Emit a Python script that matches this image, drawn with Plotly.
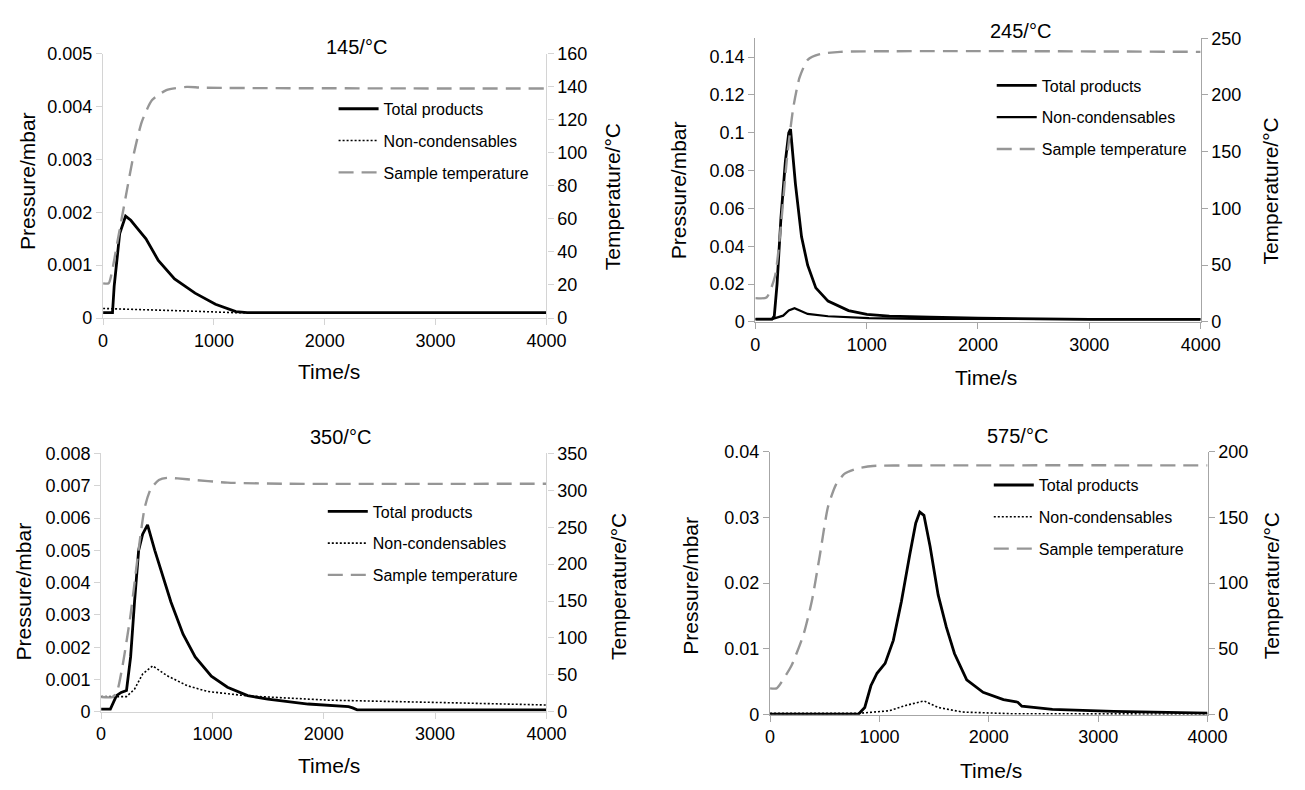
import plotly.graph_objects as go

# ---------------------------------------------------------------------------
# Pyrolysis runs: evolved-gas pressure and sample temperature versus time
# ---------------------------------------------------------------------------
panel_titles = ["145/°C", "245/°C", "350/°C", "575/°C"]
series_names = ["Total products", "Non-condensables", "Sample temperature"]
time_ticks = [0, 1000, 2000, 3000, 4000]

# 145 °C run
t145_total = [0, 85, 100, 150, 203, 250, 300, 387, 498, 645, 830, 1014, 1198, 1300, 4000]
p145_total = [0.0001, 0.0001, 0.0006, 0.0016, 0.00193, 0.00185, 0.00172, 0.0015, 0.00109,
              0.00074, 0.00047, 0.00026, 0.00012, 0.0001, 0.0001]
t145_noncond = [0, 400, 800, 1200, 4000]
p145_noncond = [0.00018, 0.00016, 0.00013, 0.0001, 0.0001]
t145_temp = [0, 50, 74, 129, 203, 276, 350, 442, 571, 756, 900, 4000]
T145_temp = [21, 21, 26, 46, 73, 99, 119, 132, 138, 140, 139.5, 139]
p145_ticks = [0, 0.001, 0.002, 0.003, 0.004, 0.005]
p145_labels = ["0", "0.001", "0.002", "0.003", "0.004", "0.005"]
T145_ticks = [0, 20, 40, 60, 80, 100, 120, 140, 160]

# 245 °C run
t245_total = [0, 150, 170, 195, 230, 270, 300, 316, 360, 415, 470, 543, 653, 837,
              1002, 1204, 1571, 2000, 3000, 4000]
p245_total = [0.0015, 0.0015, 0.003, 0.02, 0.055, 0.085, 0.1, 0.102, 0.073, 0.045,
              0.03, 0.018, 0.011, 0.006, 0.004, 0.003, 0.0025, 0.002, 0.0013, 0.0013]
t245_noncond = [0, 150, 250, 300, 352, 470, 653, 1020, 1500, 4000]
p245_noncond = [0.0015, 0.0015, 0.0033, 0.006, 0.0072, 0.0042, 0.003, 0.002, 0.0016, 0.0014]
t245_temp = [0, 100, 176, 231, 286, 341, 396, 470, 580, 763, 4000]
T245_temp = [21, 21.5, 40, 86, 146, 189, 215, 231, 236, 238, 238]
p245_ticks = [0, 0.02, 0.04, 0.06, 0.08, 0.1, 0.12, 0.14]
p245_labels = ["0", "0.02", "0.04", "0.06", "0.08", "0.1", "0.12", "0.14"]
T245_ticks = [0, 50, 100, 150, 200, 250]

# 350 °C run
t350_total = [0, 83, 138, 180, 228, 265, 300, 337, 373, 417, 482, 555, 627, 736, 845,
              990, 1135, 1316, 1497, 1860, 2223, 2259, 2300, 4000]
p350_total = [0.00008, 0.00008, 0.0005, 0.0006, 0.00066, 0.0017, 0.0034, 0.005, 0.0055,
              0.00579, 0.005, 0.0042, 0.0034, 0.0024, 0.0017, 0.0011, 0.00076, 0.0005,
              0.00039, 0.00024, 0.00016, 0.00012, 0.00006, 0.00006]
t350_noncond = [0, 228, 300, 373, 464, 591, 772, 954, 1316, 2041, 3129, 4000]
p350_noncond = [0.00047, 0.00047, 0.0007, 0.00117, 0.00142, 0.00112, 0.00081, 0.00063,
                0.00049, 0.00036, 0.00028, 0.00021]
t350_temp = [0, 100, 138, 192, 265, 337, 392, 446, 519, 591, 772, 1135, 1679, 4000]
T350_temp = [20, 20, 25, 62, 132, 220, 277, 302, 314, 317, 315, 310.5, 309, 309]
p350_ticks = [0, 0.001, 0.002, 0.003, 0.004, 0.005, 0.006, 0.007, 0.008]
p350_labels = ["0", "0.001", "0.002", "0.003", "0.004", "0.005", "0.006", "0.007", "0.008"]
T350_ticks = [0, 50, 100, 150, 200, 250, 300, 350]

# 575 °C run
t575_total = [0, 810, 866, 922, 978, 1052, 1127, 1201, 1276, 1332, 1369, 1407, 1463,
              1537, 1612, 1686, 1798, 1948, 2134, 2265, 2302, 2582, 3141, 4000]
p575_total = [0.0001, 0.0001, 0.0011, 0.0044, 0.0063, 0.0078, 0.0113, 0.0172, 0.0242,
              0.0291, 0.0308, 0.0303, 0.0256, 0.0182, 0.0133, 0.0093, 0.0053, 0.0034,
              0.0023, 0.0019, 0.0013, 0.0008, 0.0005, 0.00025]
t575_noncond = [0, 800, 1089, 1239, 1407, 1537, 1761, 2209, 4000]
p575_noncond = [0.0002, 0.0002, 0.0006, 0.0014, 0.0021, 0.0011, 0.0004, 0.00015, 0.0001]
t575_temp = [0, 60, 82, 194, 306, 381, 455, 530, 604, 679, 791, 940, 1276, 4000]
T575_temp = [20, 20, 22, 37, 61, 86, 121, 158, 175, 183, 187, 189, 189.4, 189.5]
p575_ticks = [0, 0.01, 0.02, 0.03, 0.04]
p575_labels = ["0", "0.01", "0.02", "0.03", "0.04"]
T575_ticks = [0, 50, 100, 150, 200]

runs = [
    dict(total=(t145_total, p145_total), noncond=(t145_noncond, p145_noncond),
         temp=(t145_temp, T145_temp), pticks=p145_ticks, plabels=p145_labels,
         Tticks=T145_ticks, prange=[0, 0.005], Trange=[0, 160], noncond_dash="2px,2px"),
    dict(total=(t245_total, p245_total), noncond=(t245_noncond, p245_noncond),
         temp=(t245_temp, T245_temp), pticks=p245_ticks, plabels=p245_labels,
         Tticks=T245_ticks, prange=[0, 0.15], Trange=[0, 250], noncond_dash="solid"),
    dict(total=(t350_total, p350_total), noncond=(t350_noncond, p350_noncond),
         temp=(t350_temp, T350_temp), pticks=p350_ticks, plabels=p350_labels,
         Tticks=T350_ticks, prange=[0, 0.008], Trange=[0, 350], noncond_dash="2px,2px"),
    dict(total=(t575_total, p575_total), noncond=(t575_noncond, p575_noncond),
         temp=(t575_temp, T575_temp), pticks=p575_ticks, plabels=p575_labels,
         Tticks=T575_ticks, prange=[0, 0.04], Trange=[0, 200], noncond_dash="2px,2px"),
]

# ---------------------------------------------------------------------------
# Page geometry (pixels) -> paper fractions
# ---------------------------------------------------------------------------
W, H = 1305, 790
FONT = "Liberation Sans, Arial, Helvetica, sans-serif"

# plot-area boxes: left, right, top, bottom
boxes = [(100, 552, 45, 316), (765, 1219, 29, 320), (98, 552, 455, 720), (780, 1226, 453, 723)]
axis_colours = ["#d4d4d4", "#a6a6a6", "#d4d4d4", "#a6a6a6"]
title_pos = [(358, 38), (1035, 22), (342, 438), (1032, 437)]
legend_pos = [(335, 84), (1006, 60), (324, 497), (1003, 470)]
ylab_left = [(23, 176), (686, 185), (19, 597), (698, 591)]
ylab_right = [(619, 192), (1290, 186), (625, 592), (1291, 591)]
xlab_pos = [(330, 371), (1000, 377), (330, 775), (1005, 780)]


def px(x):
    return x / W


def py(y):
    return 1 - y / H


fig = go.Figure()
annotations = []
layout = dict(
    width=W, height=H, autosize=False,
    margin=dict(l=0, r=0, t=0, b=0),
    paper_bgcolor="white", plot_bgcolor="white",
    font=dict(family=FONT, color="black", size=18),
    showlegend=True,
)

for i, run in enumerate(runs):
    n = i + 1
    xa = "x" if n == 1 else f"x{n}"
    ya = "y" if n == 1 else f"y{n}"
    ya_r = f"y{n + 4}"
    leg = "legend" if n == 1 else f"legend{n}"
    left, right, top, bottom = boxes[i]
    colour = axis_colours[i]

    fig.add_trace(go.Scatter(
        x=run["total"][0], y=run["total"][1], mode="lines", name=series_names[0],
        line=dict(color="black", width=2.8), xaxis=xa, yaxis=ya,
        legend=leg, legendgroup=f"{n}a"))
    fig.add_trace(go.Scatter(
        x=run["noncond"][0], y=run["noncond"][1], mode="lines", name=series_names[1],
        line=dict(color="black", width=2.2 if run["noncond_dash"] == "solid" else 1.6,
                  dash=run["noncond_dash"]),
        xaxis=xa, yaxis=ya, legend=leg, legendgroup=f"{n}b"))
    fig.add_trace(go.Scatter(
        x=run["temp"][0], y=run["temp"][1], mode="lines", name=series_names[2],
        line=dict(color="#969696", width=2.4, dash="15px,8px", shape="spline",
                  smoothing=0.6),
        xaxis=xa, yaxis=ya_r, legend=leg, legendgroup=f"{n}c"))

    axis_common = dict(showgrid=False, zeroline=False, showline=True, linecolor=colour,
                       linewidth=1.2, ticks="outside", ticklen=6, tickcolor=colour,
                       tickwidth=1, tickfont=dict(size=18, family=FONT, color="black"))
    layout["xaxis" if n == 1 else f"xaxis{n}"] = dict(
        domain=[px(left), px(right)], anchor=ya, range=[0, 4000],
        tickvals=time_ticks, ticktext=[str(v) for v in time_ticks], **axis_common)
    layout["yaxis" if n == 1 else f"yaxis{n}"] = dict(
        domain=[py(bottom), py(top)], anchor=xa, range=run["prange"],
        tickvals=run["pticks"], ticktext=run["plabels"], **axis_common)
    layout[f"yaxis{n + 4}"] = dict(
        overlaying=ya, side="right", anchor=xa, range=run["Trange"],
        tickvals=run["Tticks"], ticktext=[str(v) for v in run["Tticks"]], **axis_common)

    lx, ly = legend_pos[i]
    layout[leg] = dict(
        x=px(lx), y=py(ly), xanchor="left", yanchor="top", bgcolor="rgba(0,0,0,0)",
        borderwidth=0, font=dict(size=16, family=FONT, color="black"),
        traceorder="grouped", tracegroupgap=8, itemwidth=40)

    tx, ty = title_pos[i]
    annotations.append(dict(text=panel_titles[i], x=px(tx), y=py(ty), xref="paper",
                            yref="paper", showarrow=False, xanchor="center",
                            yanchor="middle", font=dict(size=20, family=FONT)))
    lx2, ly2 = ylab_left[i]
    annotations.append(dict(text="Pressure/mbar", x=px(lx2), y=py(ly2), xref="paper",
                            yref="paper", showarrow=False, textangle=-90,
                            xanchor="center", yanchor="middle",
                            font=dict(size=21, family=FONT)))
    rx, ry = ylab_right[i]
    annotations.append(dict(text="Temperature/°C", x=px(rx), y=py(ry), xref="paper",
                            yref="paper", showarrow=False, textangle=-90,
                            xanchor="center", yanchor="middle",
                            font=dict(size=21, family=FONT)))
    bx, by = xlab_pos[i]
    annotations.append(dict(text="Time/s", x=px(bx), y=py(by), xref="paper",
                            yref="paper", showarrow=False, xanchor="center",
                            yanchor="middle", font=dict(size=21, family=FONT)))

layout["annotations"] = annotations
fig.update_layout(**layout)
fig.write_html("out.html")
